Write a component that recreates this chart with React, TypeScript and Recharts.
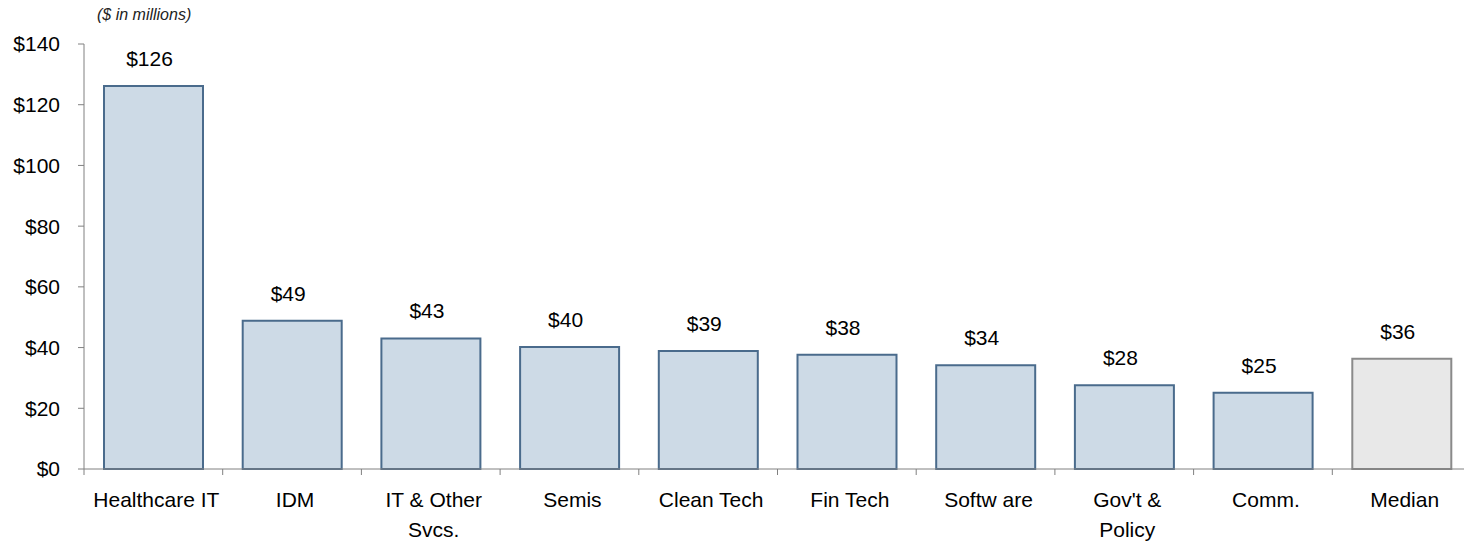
import { BarChart, Bar, XAxis, YAxis, Cell, LabelList } from 'recharts';

const categories = [
  'Healthcare IT',
  'IDM',
  'IT & Other\nSvcs.',
  'Semis',
  'Clean Tech',
  'Fin Tech',
  'Softw are',
  "Gov't &\nPolicy",
  'Comm.',
  'Median',
];
const values = [126.2, 48.8, 43.0, 40.2, 38.9, 37.6, 34.2, 27.6, 25.1, 36.3];
const yTicks = [0, 20, 40, 60, 80, 100, 120, 140];

const data = categories.map((name, i) => ({ name, value: values[i] }));

const CHART_W = 1471;
const Y_AXIS_W = 84;
const BAND = (CHART_W - Y_AXIS_W) / categories.length;
const FONT = '"Liberation Sans", Arial, sans-serif';
const AXIS_GREY = '#808080';

function CategoryTick(props: any) {
  const { x, y, payload } = props;
  const lines = String(payload.value).split('\n');
  const tx = x + 3;
  return (
    <g>
      <line x1={x - BAND / 2} x2={x - BAND / 2} y1={y} y2={y + 6} stroke={AXIS_GREY} />
      <text x={tx} y={y} textAnchor="middle" fontSize={21} fill="#000" fontFamily={FONT}>
        {lines.map((l, i) => (
          <tspan key={i} x={tx} dy={i === 0 ? 38 : 30}>
            {l}
          </tspan>
        ))}
      </text>
    </g>
  );
}

export default function App() {
  return (
    <div
      style={{
        position: 'absolute',
        left: 0,
        top: 0,
        width: 1464,
        height: 545,
        overflow: 'hidden',
        background: '#fff',
        fontFamily: FONT,
      }}
    >
      <div
        style={{
          position: 'absolute',
          left: 97,
          top: 6,
          fontSize: 16,
          fontStyle: 'italic',
          color: '#222',
        }}
      >
        ($ in millions)
      </div>
      <BarChart
        width={CHART_W}
        height={545}
        data={data}
        margin={{ top: 44, right: 0, left: 0, bottom: 0 }}
      >
        <XAxis
          dataKey="name"
          interval={0}
          height={76}
          stroke={AXIS_GREY}
          tickLine={false}
          tickSize={0}
          tickMargin={0}
          tick={<CategoryTick />}
        />
        <YAxis
          width={Y_AXIS_W}
          domain={[0, 140]}
          ticks={yTicks}
          interval={0}
          stroke={AXIS_GREY}
          tickSize={6}
          tickMargin={18}
          tickFormatter={(v) => `$${v}`}
          tick={{ fill: '#000', fontSize: 21, fontFamily: FONT }}
        />
        <Bar dataKey="value" barSize={99} isAnimationActive={false} strokeWidth={2}>
          {data.map((d) => (
            <Cell
              key={d.name}
              fill={d.name === 'Median' ? '#E8E8E8' : '#CDDAE6'}
              stroke={d.name === 'Median' ? '#8A8A8A' : '#4A6B8C'}
            />
          ))}
          <LabelList
            dataKey="value"
            position="top"
            offset={20}
            dx={-4}
            formatter={(v: any) => `$${Math.round(Number(v))}`}
            style={{ fill: '#000', fontSize: 21, fontFamily: FONT }}
          />
        </Bar>
      </BarChart>
    </div>
  );
}
